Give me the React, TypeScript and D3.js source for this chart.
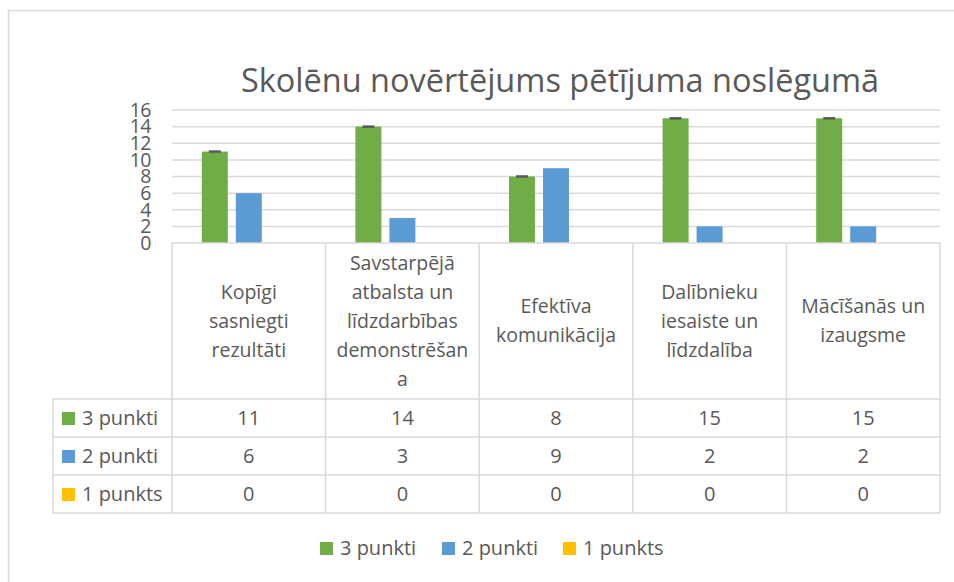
import * as React from "react";
import * as d3 from "d3";

const categories = [
  ["Kopīgi", "sasniegti", "rezultāti"],
  ["Savstarpējā", "atbalsta un", "līdzdarbības", "demonstrēšan", "a"],
  ["Efektīva", "komunikācija"],
  ["Dalībnieku", "iesaiste un", "līdzdalība"],
  ["Mācīšanās un", "izaugsme"],
];
const seriesNames = ["3 punkti", "2 punkti", "1 punkts"];
const seriesColors = ["#70AD47", "#5B9BD5", "#FFC000"];
const points3 = [11, 14, 8, 15, 15];
const points2 = [6, 3, 9, 2, 2];
const points1 = [0, 0, 0, 0, 0];
const yTicks = [0, 2, 4, 6, 8, 10, 12, 14, 16];

const FONT = "'Open Sans', sans-serif";
const TEXT = "#595959";
const GRID = "#d9d9d9";

export default function App() {
  const width = 954;
  const height = 582;
  const values = [points3, points2, points1];

  const plotLeft = 172;
  const plotRight = 940;
  const x = d3.scaleBand().domain(d3.range(categories.length).map(String)).range([plotLeft, plotRight]);
  const xs = d3
    .scaleBand()
    .domain(seriesNames)
    .range([0, x.bandwidth()])
    .paddingInner(0.235)
    .paddingOuter(0.876);
  const y = d3.scaleLinear().domain([0, 16]).range([243, 110]);

  // table rows
  const headerBottom = 399;
  const rowH = 38;
  const tableLeft = 53;
  const rowTops = seriesNames.map((_, i) => headerBottom + i * rowH);
  const tableBottom = headerBottom + seriesNames.length * rowH;
  const fs = 20;

  return (
    <svg
      width={width}
      height={height}
      style={{ position: "fixed", left: 0, top: 0, background: "#fff" }}
      fontFamily={FONT}
    >
      <rect x={8.5} y={10.5} width={1000} height={700} fill="#fff" stroke={GRID} strokeWidth={1.5} />

      <text x={560} y={92} textAnchor="middle" fontSize={32.5} fill={TEXT}>
        Skolēnu novērtējums pētījuma noslēgumā
      </text>

      {/* gridlines */}
      {yTicks.filter((t) => t > 0).map((t) => (
        <line key={t} x1={plotLeft} x2={plotRight} y1={y(t)} y2={y(t)} stroke={GRID} strokeWidth={1.5} />
      ))}
      {yTicks.map((t) => (
        <text key={t} x={151} y={y(t)} dy="0.35em" textAnchor="end" fontSize={19.5} fill={TEXT} letterSpacing={-0.5}>
          {t}
        </text>
      ))}

      {/* bars */}
      {values.map((vals, si) =>
        vals.map((v, ci) => {
          const bx = (x(String(ci)) as number) + (xs(seriesNames[si]) as number);
          return (
            <rect
              key={si + "-" + ci}
              x={bx}
              y={y(v)}
              width={xs.bandwidth()}
              height={y(0) - y(v)}
              fill={seriesColors[si]}
            />
          );
        })
      )}
      {/* error caps on 3 punkti */}
      {points3.map((v, ci) => {
        const cx = (x(String(ci)) as number) + (xs(seriesNames[0]) as number) + xs.bandwidth() / 2;
        return <line key={ci} x1={cx - 6} x2={cx + 6} y1={y(v)} y2={y(v)} stroke={TEXT} strokeWidth={2.5} />;
      })}

      {/* data table */}
      <g stroke={GRID} strokeWidth={1.5}>
        <line x1={plotLeft} x2={plotRight} y1={y(0)} y2={y(0)} />
        {rowTops.map((ry) => (
          <line key={ry} x1={tableLeft} x2={plotRight} y1={ry} y2={ry} />
        ))}
        <line x1={tableLeft} x2={plotRight} y1={tableBottom} y2={tableBottom} />
        <line x1={tableLeft} x2={tableLeft} y1={headerBottom} y2={tableBottom} />
        {d3.range(categories.length + 1).map((i) => {
          const lx = plotLeft + i * x.step();
          return <line key={i} x1={lx} x2={lx} y1={y(0)} y2={tableBottom} />;
        })}
      </g>

      {categories.map((lines, ci) => {
        const cx = (x(String(ci)) as number) + x.bandwidth() / 2;
        const mid = (y(0) + headerBottom) / 2;
        const lh = 29;
        return (
          <text key={ci} textAnchor="middle" fontSize={19.5} fill={TEXT}>
            {lines.map((l, li) => (
              <tspan key={li} x={cx} y={mid + (li - (lines.length - 1) / 2) * lh} dy="0.35em">
                {l}
              </tspan>
            ))}
          </text>
        );
      })}

      {seriesNames.map((s, si) => {
        const cy = rowTops[si] + rowH / 2;
        return (
          <g key={s}>
            <rect x={62} y={cy - 6} width={13} height={13} fill={seriesColors[si]} />
            <text x={82} y={cy} dy="0.35em" fontSize={fs} fill={TEXT}>
              {s}
            </text>
            {values[si].map((v, ci) => (
              <text
                key={ci}
                x={(x(String(ci)) as number) + x.bandwidth() / 2}
                y={cy}
                dy="0.35em"
                textAnchor="middle"
                fontSize={fs}
                fill={TEXT}
              >
                {v}
              </text>
            ))}
          </g>
        );
      })}

      {/* legend */}
      {seriesNames.map((s, si) => {
        const lx = [320, 442, 563][si];
        return (
          <g key={s}>
            <rect x={lx} y={542} width={13} height={13} fill={seriesColors[si]} />
            <text x={lx + 20} y={548} dy="0.35em" fontSize={fs} fill={TEXT}>
              {s}
            </text>
          </g>
        );
      })}
    </svg>
  );
}
